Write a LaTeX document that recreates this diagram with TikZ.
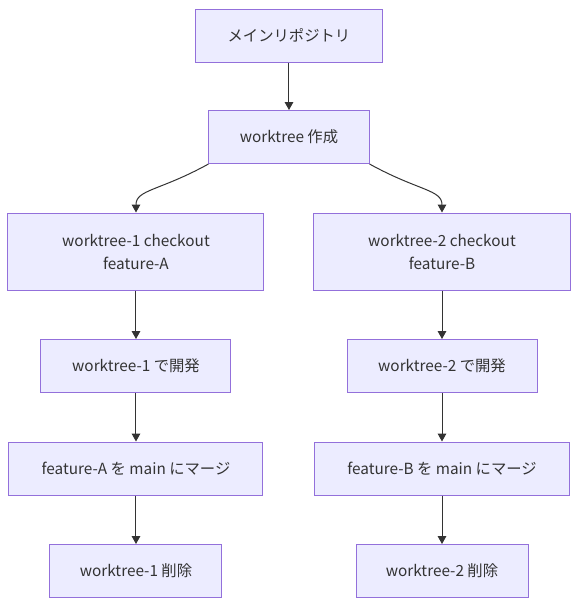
\documentclass[tikz,border=0pt]{standalone}
\usepackage{fontspec}
\setmainfont{Noto Sans CJK JP}
\usetikzlibrary{arrows.meta}
\definecolor{boxfill}{HTML}{ECECFF}
\definecolor{boxline}{HTML}{9370DB}
\definecolor{edgeline}{HTML}{333333}
\tikzset{
	box/.style={draw=boxline, fill=boxfill, line width=0.75pt, text=edgeline,
		align=center, inner sep=0pt, minimum height=39.75pt,
		font=\fontsize{11.5}{17.25}\selectfont},
	tall/.style={minimum height=57.75pt},
	curveleft/.style={edge from parent path={(\tikzparentnode.south west)
		.. controls +(-36.75pt,-20.25pt) and +(0,17.25pt) .. (\tikzchildnode.north)}},
	curveright/.style={edge from parent path={(\tikzparentnode.south east)
		.. controls +(36.75pt,-20.25pt) and +(0,17.25pt) .. (\tikzchildnode.north)}},
	straight/.style={edge from parent path={(\tikzparentnode\tikzparentanchor)
		-- (\tikzchildnode\tikzchildanchor)}}
}
\begin{document}
\begin{tikzpicture}
		[edge from parent/.style={draw=edgeline, line width=0.75pt,
			-{Triangle[length=6pt,width=6.5pt]}},
		level 1/.style={level distance=76.125pt},
		level 2/.style={level distance=85.875pt,
			sibling distance=229.5pt},
		level 3/.style={level distance=85.875pt, straight},
		level 4/.style={level distance=76.875pt},
		level 5/.style={level distance=76.875pt}
	]
		\useasboundingbox (-216.75pt,26.625pt) rectangle (222.75pt,-433.875pt);
		\node[box, minimum width=139.5pt] (repo) {メインリポジトリ}
		child {node[box, minimum width=120pt] (create) {worktree 作成}
			child[curveleft] {node[box, tall, minimum width=192pt] (checkout1) {worktree-1 checkout\\feature-A}
				child {node[box, minimum width=142.5pt] (dev1) {worktree-1 で開発}
					child {node[box, minimum width=190.5pt] (merge1) {feature-A を main にマージ}
						child {node[box, minimum width=129pt] (remove1) {worktree-1 削除}}
					}
				}
			}
			child[curveright] {node[box, tall, minimum width=192pt] (checkout2) {worktree-2 checkout\\feature-B}
				child {node[box, minimum width=142.5pt] (dev2) {worktree-2 で開発}
					child {node[box, minimum width=190.5pt] (merge2) {feature-B を main にマージ}
						child {node[box, minimum width=129pt] (remove2) {worktree-2 削除}}
					}
				}
			}
		}
		;
	\end{tikzpicture}
\end{document}
